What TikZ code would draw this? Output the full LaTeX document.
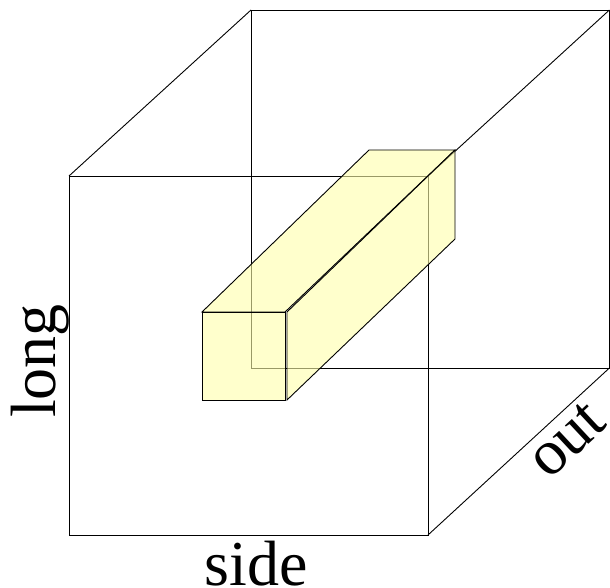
\documentclass[tikz,border=0pt]{standalone}
\usepackage{fontspec}
\setmainfont{Liberation Serif}
\usetikzlibrary{positioning, calc}
\definecolor{barfill}{RGB}{255,255,170}
\tikzstyle{edge} = [black, line width=0.9pt]
\tikzstyle{face} = [draw=black, line width=0.9pt, fill=barfill, fill opacity=0.6, draw opacity=1]
\tikzstyle{label} = [font=\fontsize{64}{64}\selectfont, inner sep=0pt, text=black]

\begin{document}
\begin{tikzpicture}[x=1pt, y=-1pt]
    \useasboundingbox (0,0) rectangle (610,588);

    % Outer cube
    \coordinate (fronttl) at (69,176);
    \coordinate (fronttr) at (428,176);
    \coordinate (frontbr) at (428,535);
    \coordinate (frontbl) at (69,535);
    \coordinate (backtl) at (251,10);
    \coordinate (backtr) at (609.4,10);
    \coordinate (backbr) at (609.4,368);
    \coordinate (backbl) at (251,368);
    \draw [edge] (fronttl) -- (fronttr) -- (frontbr) -- (frontbl) -- cycle;
    \draw [edge] (backtl) rectangle (backbr);
    \draw [edge] (fronttl) -- (backtl);
    \draw [edge] (fronttr) -- (backtr);
    \draw [edge] (frontbr) -- (backbr);

    % Inner bar
    \coordinate (bartl) at (202,312);
    \coordinate (bartr) at (285,312);
    \coordinate (barbr) at (285,400);
    \coordinate (barbl) at (202,400);
    \coordinate (sidetl) at (287,312);
    \coordinate (sidebl) at (287,400);
    \coordinate (reartl) at (369,150);
    \coordinate (reartr) at (455,150);
    \coordinate (rearbr) at (455,239);
    \draw [face] (bartl) -- (reartl) -- (reartr) -- (bartr) -- cycle;
    \draw [face] (sidetl) -- (reartr) -- (rearbr) -- (sidebl) -- cycle;
    \draw [face] (bartl) -- (bartr) -- (barbr) -- (barbl) -- cycle;

    % Axis names
    \node (sidename) [label] at (256,564) {side};
    \node (longname) [label, rotate=90] at (40,361) {long};
    \node (outname) [label, rotate=43] at (567,440) {out};
\end{tikzpicture}
\end{document}
